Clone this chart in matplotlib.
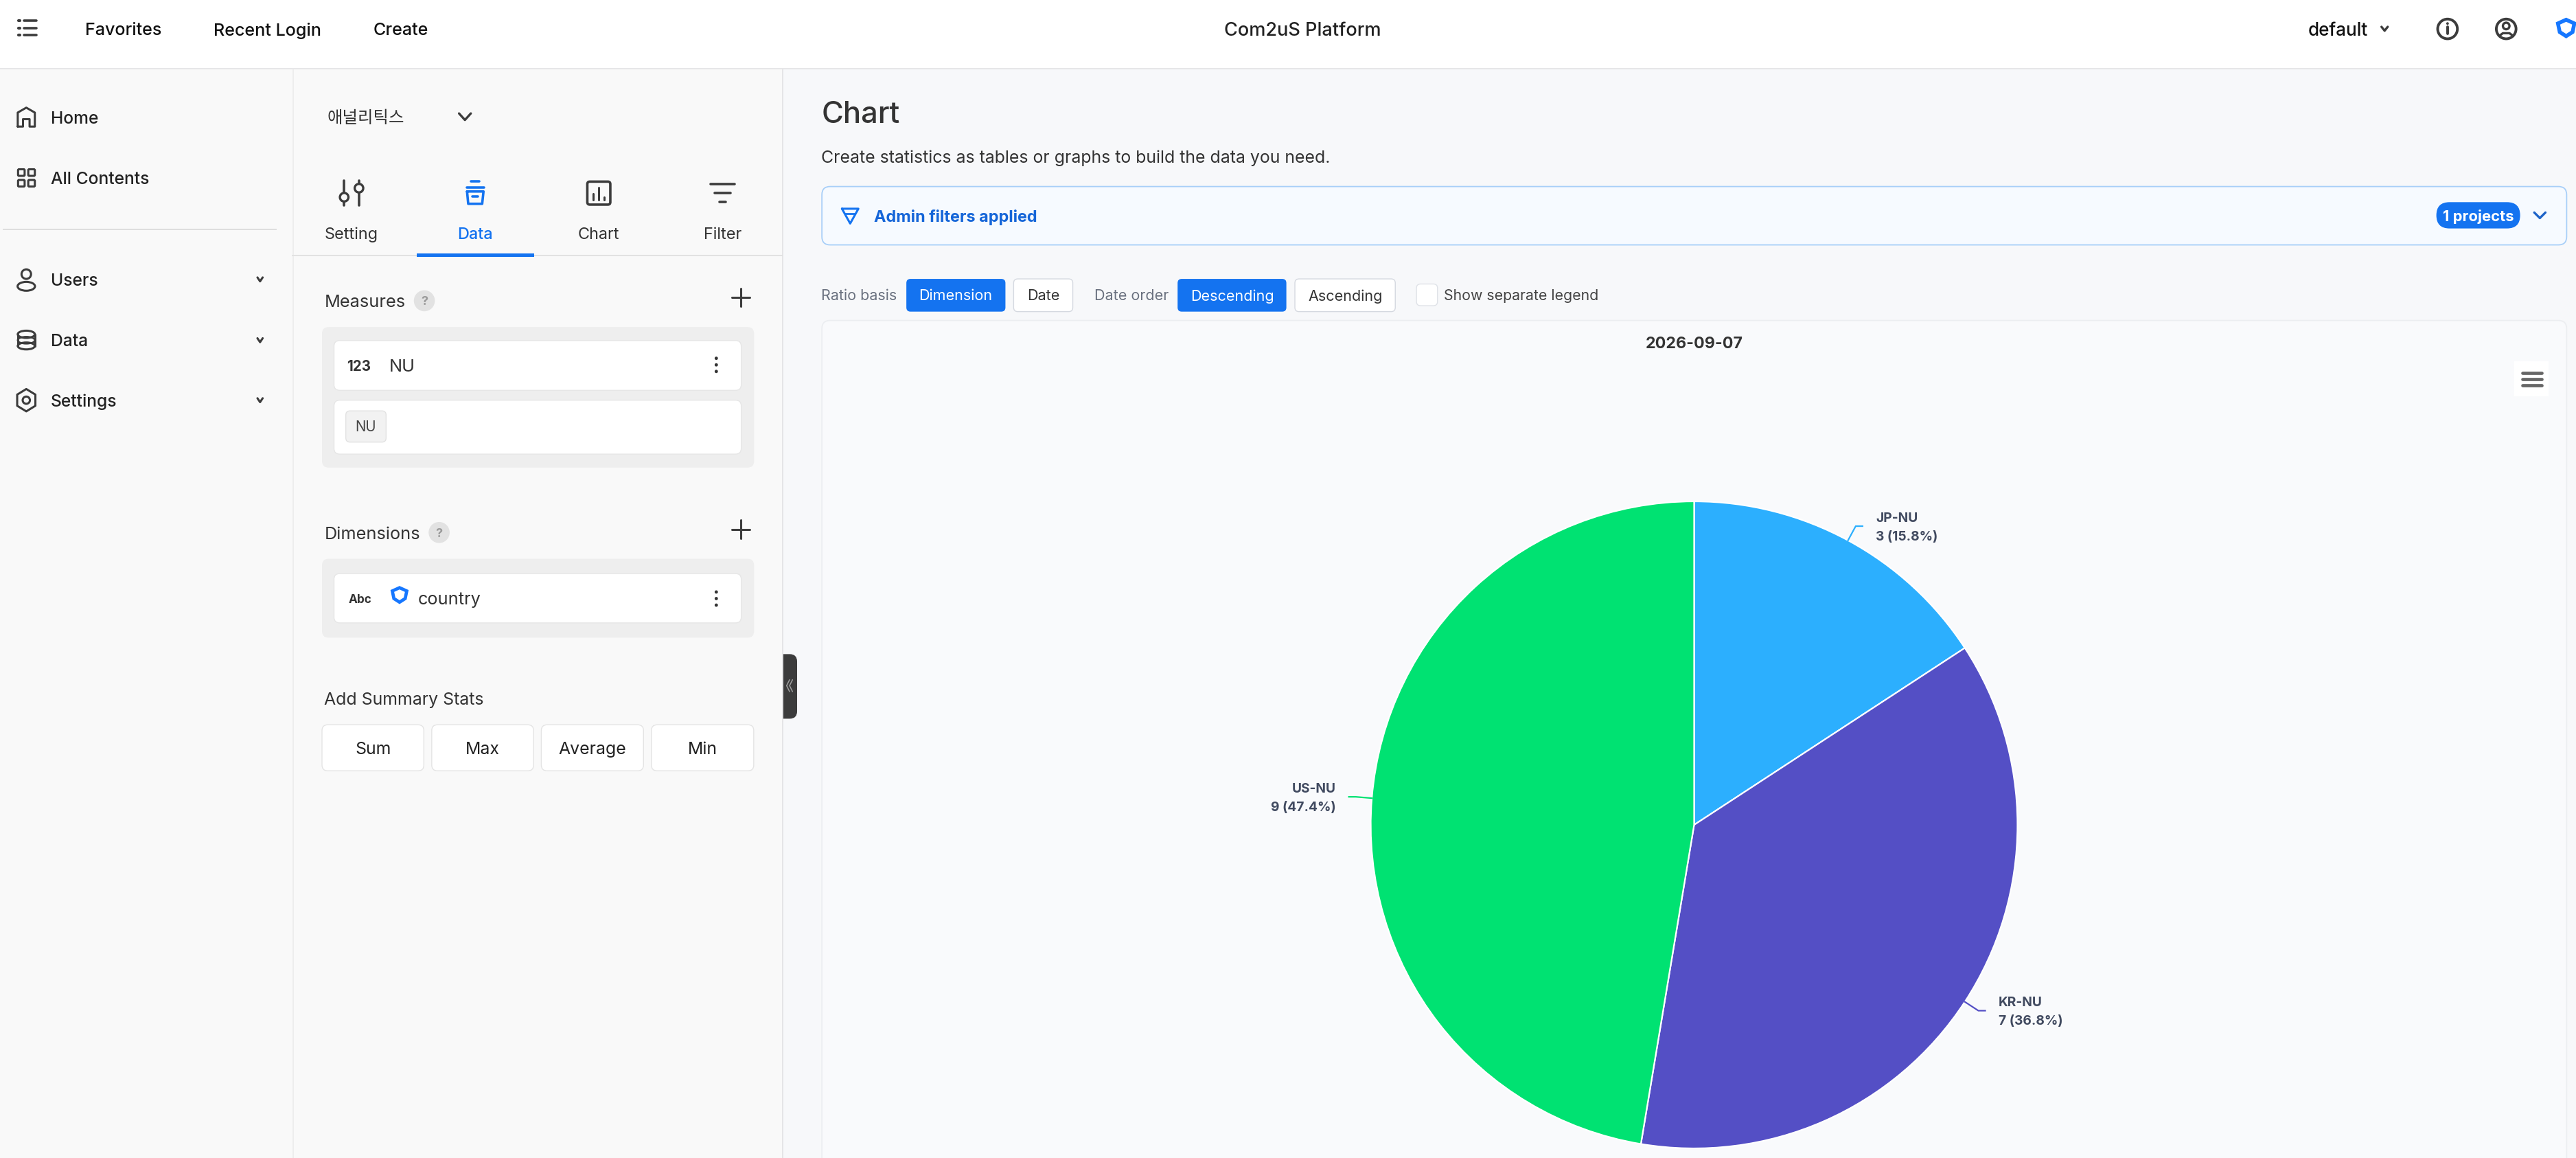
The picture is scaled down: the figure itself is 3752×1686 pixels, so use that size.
import numpy as np
import matplotlib
matplotlib.use("Agg")
import matplotlib.pyplot as plt
from matplotlib.patches import FancyBboxPatch, Circle, Rectangle, Polygon, Ellipse

# ---- data -------------------------------------------------------------
categories = ["JP-NU", "KR-NU", "US-NU"]
values = [3, 7, 9]
colors = ["#2caffe", "#544fc5", "#00e272"]
chart_date = "2026-09-07"

top_links = ["Favorites", "Recent Login", "Create"]
nav_main = ["Home", "All Contents"]
nav_sub = ["Users", "Data", "Settings"]
tabs = ["Setting", "Data", "Chart", "Filter"]
summary_buttons = ["Sum", "Max", "Average", "Min"]

# ---- canvas: overlay axes in screen units ------------------------------
W, H, DPI = 3752, 1686, 100
S = 3752 / 1568
FS = S * 0.72            # css-like px -> pt
fig = plt.figure(figsize=(W / DPI, H / DPI), dpi=DPI, facecolor="#f7f8fa")
ui = fig.add_axes([0, 0, 1, 1], zorder=1)
ui.set_xlim(0, W / S)
ui.set_ylim(H / S, 0)
ui.axis("off")

FONT = ["Inter", "Noto Sans CJK KR", "DejaVu Sans"]
INK = "#222222"
BLUE = "#1473f0"
ICON = "#3c3c3c"


def T(x, y, s, size=11, color=INK, ha="left", weight="normal", **kw):
    ui.text(x, y, s, fontsize=size * FS, color=color, ha=ha, va="center_baseline",
            fontfamily=FONT, fontweight=weight, **kw)


def box(x0, y0, x1, y1, fc="white", ec="none", r=2.0, lw=1.0, z=1):
    ui.add_patch(FancyBboxPatch((x0, y0), x1 - x0, y1 - y0,
                                boxstyle=f"round,pad=0,rounding_size={r}",
                                fc=fc, ec=ec, lw=lw, zorder=z))


def L(xs, ys, c=ICON, lw=3.0, z=3):
    ui.plot(xs, ys, color=c, lw=lw, solid_capstyle="round", zorder=z)


def chevron(x, y, w=2.5, h=1.7, c=ICON, lw=2.4):
    L([x - w, x, x + w], [y - h, y + h, y - h], c=c, lw=lw)


def kebab(x, y):
    for dy in (-4, 0, 4):
        ui.add_patch(Circle((x, y + dy), 1.0, fc="#333333", ec="none", zorder=3))


def plus(x, y, r=5.5):
    L([x - r, x + r], [y, y], c="#3c3c3c", lw=2.2)
    L([x, x], [y - r, y + r], c="#3c3c3c", lw=2.2)


def qmark(x, y):
    ui.add_patch(Circle((x, y), 6.4, fc="#e2e2e2", ec="none", zorder=2))
    T(x, y, "?", size=7.5, color="#9a9a9a", ha="center", weight="bold", zorder=3)


def shield(x, y, r=5.0, lw=4.0):
    a = np.array([[-1, -.55], [0, -1], [1, -.55], [.78, .5], [0, 1], [-.78, .5]])
    ui.add_patch(Polygon(a * r + [x, y], closed=True, fc="none", ec="#1677ff", lw=lw, zorder=3))


# ---- panel backgrounds -------------------------------------------------
ui.add_patch(Rectangle((0, 42), 476, 670, fc="#f9f9f9", ec="none", zorder=0))
ui.add_patch(Rectangle((0, 0), 1568, 42, fc="white", ec="none", zorder=0))
LINE = "#e4e4e6"
ui.plot([0, 1568], [41.7, 41.7], color=LINE, lw=1.3, zorder=1)
ui.plot([178.3, 178.3], [42, 705], color="#ececec", lw=1.3, zorder=1)
ui.plot([476.3, 476.3], [42, 705], color=LINE, lw=1.3, zorder=1)

# ---- top bar -----------------------------------------------------------
for dy in (-4.5, 0, 4.5):
    L([11.2, 12.0], [17 + dy] * 2, lw=3.0)
    L([14.8, 22], [17 + dy] * 2, lw=2.6)
for x, s in zip((52, 130, 227), top_links):
    T(x, 17.7, s, size=10.5, color="#111111", weight="medium")
T(793, 17.7, "Com2uS Platform", size=11.35, color="#222222", ha="center", weight="medium")
T(1405, 17.7, "default", size=10.9, color="#111111", weight="medium")
chevron(1451.5, 17.5, w=1.9, h=1.2)
ui.add_patch(Circle((1489.8, 17.6), 6.0, fc="none", ec=ICON, lw=2.8, zorder=3))
L([1489.8, 1489.8], [16.5, 20.5], lw=2.8)
ui.add_patch(Circle((1489.8, 14.3), 0.8, fc=ICON, ec="none", zorder=3))
ui.add_patch(Circle((1525.5, 17.6), 6.0, fc="none", ec=ICON, lw=2.8, zorder=3))
ui.add_patch(Circle((1525.5, 15.8), 2.0, fc="none", ec=ICON, lw=2.4, zorder=3))
L([1521.3, 1523.5, 1527.5, 1529.7], [21.8, 20.2, 20.2, 21.8], lw=2.4)
shield(1562, 17)

# ---- first sidebar -----------------------------------------------------
for y, s in zip((71.5, 108.2), nav_main):
    T(31, y, s, size=10.3, color="#222222", weight="medium")
L([10.8, 10.8, 16, 21.2, 21.2, 18, 18, 14, 14, 10.8],
  [77, 68.5, 65.5, 68.5, 77, 77, 72.5, 72.5, 77, 77], lw=2.2)
for cx, cy in [(13, 105), (19.2, 105), (13, 111.5), (19.2, 111.5)]:
    ui.add_patch(FancyBboxPatch((cx - 2, cy - 2), 4, 4, boxstyle="round,pad=0,rounding_size=0.6",
                                fc="none", ec=ICON, lw=2.2, zorder=3))
ui.plot([2, 168], [139.4, 139.4], color="#dedede", lw=1.4, zorder=1)
for y, s in zip((170, 207, 243.5), nav_sub):
    T(31, y, s, size=10.3, color="#222222", weight="medium")
    chevron(158.3, y, w=1.6, h=1.2, lw=2.2)
ui.add_patch(Circle((16, 166.8), 2.9, fc="none", ec=ICON, lw=2.2, zorder=3))
ui.add_patch(Ellipse((16, 174.2), 10.6, 5.4, fc="none", ec=ICON, lw=2.2, zorder=3))
ui.add_patch(Ellipse((16, 203.4), 10.4, 4.4, fc="none", ec=ICON, lw=2.2, zorder=3))
L([10.8, 10.8], [203.4, 210.5], lw=2.2)
L([21.2, 21.2], [203.4, 210.5], lw=2.2)
ui.add_patch(Ellipse((16, 210.5), 10.4, 4.2, fc="none", ec=ICON, lw=2.2, zorder=2))
ui.add_patch(Ellipse((16, 207), 10.4, 4.2, fc="none", ec=ICON, lw=1.8, zorder=2))
t = np.linspace(0, 2 * np.pi, 7)[:-1] + np.pi / 2
ui.add_patch(Polygon(np.c_[16 + 6.4 * np.cos(t), 243.5 + 6.8 * np.sin(t)], closed=True,
                     fc="none", ec=ICON, lw=2.2, joinstyle="round", zorder=3))
ui.add_patch(Circle((16, 243.5), 2.2, fc="none", ec=ICON, lw=2.2, zorder=3))

# ---- second panel ------------------------------------------------------
T(199, 71, "애널리틱스", size=10.2, color="#333333")
chevron(283, 71, w=3.6, h=2.0, lw=2.4)
for cx, s in zip((214, 289.2, 364.5, 439.7), tabs):
    T(cx, 141.7, s, size=9.8, color=BLUE if s == "Data" else "#333333", ha="center",
      weight="medium" if s == "Data" else "normal")
L([209.5, 209.5], [110, 125], lw=2.6)
L([218.5, 218.5], [110, 125], lw=2.6)
ui.add_patch(Circle((209.5, 120), 2.6, fc="#f9f9f9", ec=ICON, lw=2.4, zorder=4))
ui.add_patch(Circle((218.5, 114.5), 2.6, fc="#f9f9f9", ec=ICON, lw=2.4, zorder=4))
L([286.5, 291.5], [110.5, 110.5], c=BLUE, lw=2.6)
L([284, 294.5], [114, 114], c=BLUE, lw=2.6)
L([284.3, 285, 293.5, 294.3, 284.3], [116.5, 124, 124, 116.5, 116.5], c=BLUE, lw=2.6)
L([287.5, 291], [119.5, 119.5], c=BLUE, lw=2.6)
box(357.5, 110.5, 371.5, 124.5, fc="none", ec=ICON, r=1.5, lw=2.6, z=3)
for x, y0 in zip((361.2, 364.5, 367.8), (118, 114, 120)):
    L([x, x], [y0, 121.5], lw=2.2)
L([432.5, 447], [112, 112], lw=2.6)
L([435, 444.5], [117.5, 117.5], lw=2.6)
L([437.8, 441.8], [123, 123], lw=2.6)
ui.plot([178, 476], [155.6, 155.6], color="#e0e0e0", lw=1.3, zorder=1)
ui.add_patch(Rectangle((253.8, 154.4), 71.4, 1.9, fc=BLUE, ec="none", zorder=2))

T(197.5, 183.2, "Measures", size=10.6, color="#333333")
qmark(258.3, 183)
plus(451, 181)
box(196, 199, 459, 284.5, fc="#eeeeee", r=4)
box(203.3, 207.2, 451.2, 237.5, fc="white", ec="#e6e6e6", r=3.5)
box(203.3, 243.5, 451.2, 276.3, fc="white", ec="#e6e6e6", r=3.5)
T(211, 222.3, "123", size=8.6, color="#333333", weight="bold")
T(237, 222.3, "NU", size=10.6, color="#333333")
kebab(436, 222)
box(210.5, 250, 235, 269, fc="#f2f2f2", ec="#e2e2e2", r=2.5)
T(222.7, 259.3, "NU", size=8.6, color="#444444", ha="center")

T(197.5, 324.2, "Dimensions", size=10.6, color="#333333")
qmark(267.3, 324)
plus(451, 322)
box(196, 340, 459, 388, fc="#eeeeee", r=4)
box(203.3, 349, 451.2, 379, fc="white", ec="#e6e6e6", r=3.5)
T(212, 364.2, "Abc", size=7.2, color="#333333", weight="bold")
shield(243.2, 362, r=4.4, lw=3.4)
T(254.3, 364.2, "country", size=10.6, color="#333333")
kebab(436, 364.2)

T(197.3, 425.2, "Add Summary Stats", size=10.4, color="#333333")
for (x0, x1), s in zip(((196, 258), (262.8, 324.8), (329.5, 391.7), (396.5, 458.8)), summary_buttons):
    box(x0, 441, x1, 469, fc="white", ec="#e4e4e4", r=3.5)
    T((x0 + x1) / 2, 455.3, s, size=10.4, color="#222222", ha="center")
ui.add_patch(FancyBboxPatch((472, 398), 13.2, 39.3, boxstyle="round,pad=0,rounding_size=4.5",
                            fc="#3c3c3c", ec="none", zorder=2))
ui.add_patch(Rectangle((470, 396), 6.3, 43, fc="#f9f9f9", ec="none", zorder=2))
ui.plot([476.3, 476.3], [396, 439], color=LINE, lw=1.3, zorder=2)
for dx in (0, 1.8):
    L([480.6 + dx, 478.8 + dx, 480.6 + dx], [413.6, 417.2, 420.8], c="#a0a0a0", lw=1.1)

# ---- main header -------------------------------------------------------
T(500, 68.2, "Chart", size=18.2, color="#333333", weight="medium")
T(500, 95.2, "Create statistics as tables or graphs to build the data you need.",
  size=10.4, color="#333333")
box(500.3, 113.5, 1562.3, 149, fc="#f6faff", ec="#a8cff8", r=5, lw=1.3)
L([512.5, 522.5, 517.5, 512.5], [127, 127, 136, 127], c=BLUE, lw=2.2)
L([514.5, 520.5], [130, 130], c=BLUE, lw=2.0)
T(532, 131.2, "Admin filters applied", size=9.8, color="#1565d8", weight="bold")
box(1483, 123, 1534, 139, fc=BLUE, r=8)
T(1508.5, 131.2, "1 projects", size=9.2, color="white", ha="center", weight="bold")
chevron(1546, 131, w=3.4, h=1.7, c="#1d63c8", lw=2.4)

# ---- option row --------------------------------------------------------
GREY = "#6b7280"
T(500, 179.4, "Ratio basis", size=9, color=GREY)
box(551.7, 169.7, 612, 189.6, fc=BLUE, r=2.5)
T(581.8, 179.4, "Dimension", size=9, color="white", ha="center")
box(617, 169.7, 653, 189.6, fc="white", ec="#d5d9e0", r=2.5)
T(635, 179.4, "Date", size=9, color="#333333", ha="center")
T(666, 179.4, "Date order", size=9, color=GREY)
box(716.8, 169.7, 783, 189.6, fc=BLUE, r=2.5)
T(750, 179.4, "Descending", size=9, color="white", ha="center")
box(788.2, 169.7, 849.3, 189.6, fc="white", ec="#d5d9e0", r=2.5)
T(818.8, 179.4, "Ascending", size=9, color="#333333", ha="center")
box(862.2, 172.8, 875, 186, fc="white", ec="#dfe2e7", r=2.5)
T(879, 179.4, "Show separate legend", size=8.9, color="#444444")

# ---- chart card --------------------------------------------------------
box(500.3, 195, 1562.3, 730, fc="#f9fafc", ec="#eceef1", r=5, lw=1.3)
T(1031.3, 208.3, chart_date, size=9.7, color="#333333", ha="center", weight="bold")
ui.add_patch(Rectangle((1530.5, 219.8), 20.6, 21.2, fc="white", ec="none", zorder=2))
for y in (226.8, 230.7, 234.6):
    L([1535.3, 1547.3], [y, y], c="#666666", lw=3.4)

# ---- pie ---------------------------------------------------------------
CX, CY, R = 2467.5, 1201.0, 471.0
ax = fig.add_axes([(CX - R) / W, 1 - (CY + R) / H, 2 * R / W, 2 * R / H], zorder=2)
ax.patch.set_alpha(0)
wedges, _ = ax.pie(values, colors=colors, startangle=90, counterclock=False, radius=1.0,
                   wedgeprops=dict(edgecolor="white", linewidth=1.6))
ax.set_xlim(-1, 1)
ax.set_ylim(-1, 1)
for w_ in wedges:
    w_.set_clip_on(False)

total = sum(values)
for w_, cat, val, col in zip(wedges, categories, values, colors):
    th = np.deg2rad((w_.theta1 + w_.theta2) / 2)
    ux, uy = np.cos(th), np.sin(th)
    side = 1 if ux >= 0 else -1
    ex, ey = 1.05 * ux, 1.05 * uy
    tail = ex + side * 10 / R
    ax.plot([ux, ex, tail], [uy, ey, ey], color=col, lw=1.6, clip_on=False, zorder=3,
            solid_joinstyle="round")
    tx = tail + side * 19 / R
    kw = dict(fontsize=13.8, color="#414a60", fontfamily=FONT, fontweight="bold",
              ha="left" if side > 0 else "right", va="center_baseline")
    ax.text(tx, ey + 13.5 / R, cat, **kw)
    ax.text(tx, ey - 13.5 / R, f"{val} ({val / total * 100:.1f}%)", **kw)

fig.savefig("out.png", dpi=DPI, facecolor=fig.get_facecolor())
